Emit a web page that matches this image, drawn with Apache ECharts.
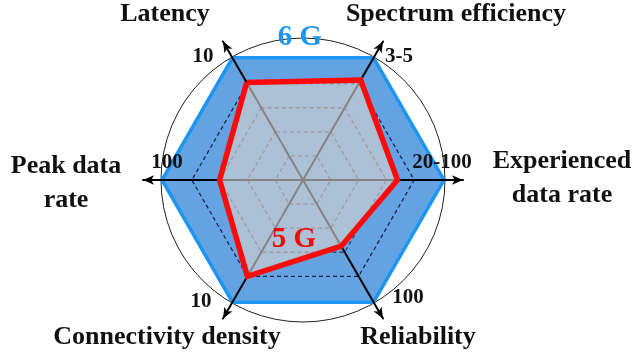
<!DOCTYPE html>
<html><head><meta charset="utf-8">
<script src="https://cdn.jsdelivr.net/npm/echarts@6/dist/echarts.min.js"></script>
<style>html,body{margin:0;padding:0;background:#fff}#c{width:640px;height:357px}</style>
</head><body><div id="c"></div>
<script>
// Indicators, counter-clockwise from the upper-left axis
const categories = ['Latency', 'Peak data rate', 'Connectivity density', 'Reliability', 'Experienced data rate', 'Spectrum efficiency'];
const tickLabels = ['10', '100', '10', '100', '20-100', '3-5'];
const axisMax = [100, 100, 100, 100, 100, 100];
const values6G = [100, 100, 100, 100, 100, 100];
const values5G = [81, 60, 80, 55, 68, 83];
const seriesNames = ['6 G', '5 G'];

const FONT = '"Liberation Serif","Times New Roman",serif';
const center = [303, 180];
const startAngle = 120;
const indicators = categories.map((n, i) => ({ name: n, min: 0, max: axisMax[i] }));
const hidden = { show: false };

// text layout (position per label, keyed by index)
const nameLayout = [
  { x: 165, y: 14, split: 0 },
  { x: 66, y: 166, split: 2 },
  { x: 167, y: 337, split: 0 },
  { x: 418, y: 337, split: 0 },
  { x: 562, y: 161, split: 1 },
  { x: 456, y: 14, split: 0 }
];
const tickLayout = [[203, 57], [167, 163], [201, 302], [408, 298], [442, 163], [399, 57]];

const graphics = [];
categories.forEach((c, i) => {
  const L = nameLayout[i];
  const words = c.split(' ');
  const lines = L.split ? [words.slice(0, L.split).join(' '), words.slice(L.split).join(' ')] : [c];
  lines.forEach((t, k) => {
    graphics.push({ type: 'text', x: L.x, y: L.y + k * 34, z: 10,
      style: { text: t, font: 'bold 26px ' + FONT, fill: '#111', align: 'center', verticalAlign: 'middle' } });
  });
  graphics.push({ type: 'text', x: tickLayout[i][0], y: tickLayout[i][1], z: 10,
    style: { text: tickLabels[i], font: 'bold 21px ' + FONT, fill: '#111', align: 'center', verticalAlign: 'middle' } });
});
graphics.push({ type: 'text', x: 300, y: 38, z: 10,
  style: { text: seriesNames[0], font: 'bold 29px ' + FONT, fill: '#1e96ee', align: 'center', verticalAlign: 'middle' } });
graphics.push({ type: 'text', x: 294, y: 240, z: 10,
  style: { text: seriesNames[1], font: 'bold 29px ' + FONT, fill: '#f00a0a', align: 'center', verticalAlign: 'middle' } });

const option = {
  animation: false,
  backgroundColor: '#fff',
  radar: [
    { // outer circle
      center, startAngle, radius: 142, shape: 'circle', splitNumber: 1, indicator: indicators, z: 1,
      axisName: hidden, axisLine: hidden, axisTick: hidden, axisLabel: hidden, splitArea: hidden,
      splitLine: { show: true, lineStyle: { color: '#222', width: 1 } }
    },
    { // dashed hexagons, data frame
      center, startAngle, radius: 139, shape: 'polygon', splitNumber: 5, indicator: indicators, z: 3,
      axisName: hidden, axisLine: hidden, axisTick: hidden, axisLabel: hidden, splitArea: hidden,
      splitLine: { show: true, lineStyle: { color: ['rgba(0,0,0,0)', '#3a4660', '#3a4660', '#3a4660', '#14264d', 'rgba(0,0,0,0)'], type: [4, 3], width: 1.3 } }
    },
    { // axes with arrows
      center, startAngle, radius: 160, shape: 'polygon', splitNumber: 1, indicator: indicators, z: 3,
      axisName: hidden, axisTick: hidden, axisLabel: hidden, splitArea: hidden, splitLine: hidden,
      axisLine: { show: true, symbol: ['none', 'arrow'], symbolSize: [7, 11], lineStyle: { color: '#000', width: 2 } }
    }
  ],
  series: [
    { type: 'radar', radarIndex: 1, z: 2, symbol: 'none', silent: true,
      data: [{ name: seriesNames[0], value: values6G }],
      lineStyle: { color: '#1c96f0', width: 7, join: 'miter' },
      areaStyle: { color: '#64a2e2', opacity: 1 } },
    { type: 'radar', radarIndex: 1, z: 4, symbol: 'none', silent: true,
      data: [{ name: seriesNames[1], value: values5G }],
      lineStyle: { width: 0, opacity: 0 },
      areaStyle: { color: 'rgb(216,212,207)', opacity: 0.62 } },
    { type: 'radar', radarIndex: 1, z: 5, symbol: 'none', silent: true,
      data: [{ name: seriesNames[1], value: values5G }],
      lineStyle: { color: '#ff0a0a', width: 5.5, join: 'miter', opacity: 1 } }
  ],
  graphic: graphics
};
const chart = echarts.init(document.getElementById('c'), null, { renderer: 'canvas' });
chart.setOption(option);
</script></body></html>
